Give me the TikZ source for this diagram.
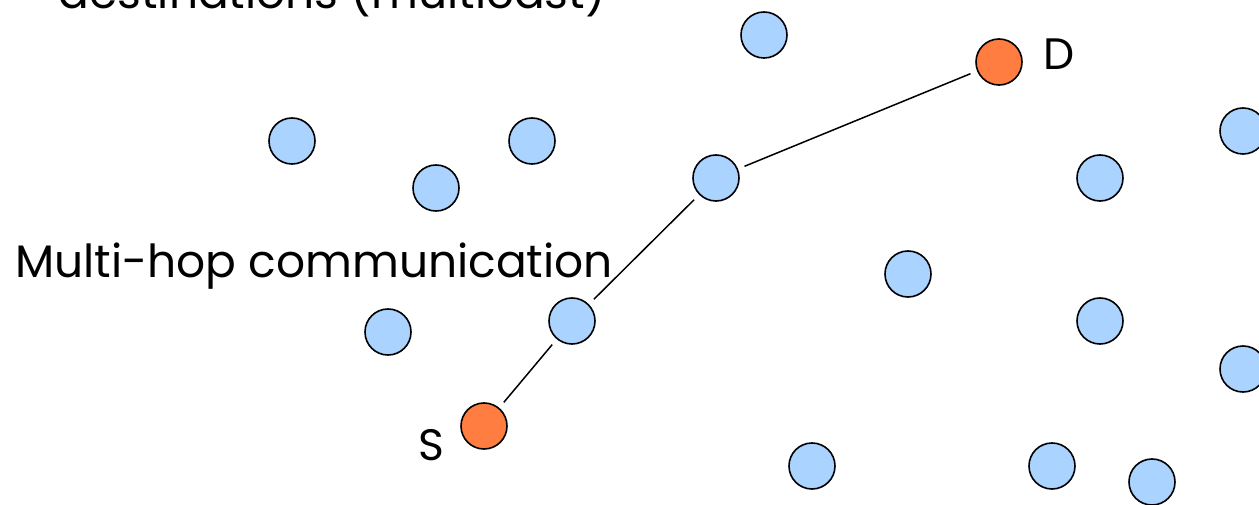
\documentclass[tikz,border=0pt]{standalone}
\usepackage{fontspec}
\setmainfont{Poppins}
\usetikzlibrary{positioning}

\definecolor{hostblue}{RGB}{170,212,255}
\definecolor{hostorange}{RGB}{255,125,64}

\tikzset{
  host/.style={circle, draw=black, line width=1.6pt, fill=hostblue, minimum size=46pt, inner sep=0pt},
  endhost/.style={host, fill=hostorange},
  hop/.style={line width=1.5pt, shorten >=7pt, shorten <=7pt},
  caption/.style={font=\fontsize{45.5}{48}\selectfont, inner sep=0pt}
}

\begin{document}
\begin{tikzpicture}[x=1pt,y=-1pt]
\clip (0,0) rectangle (1259,505);
\node[caption, anchor=base east] (title) at (606,9) {destinations (multicast)};
\node[caption, anchor=base west] (multihop) at (15,277) {Multi-hop communication};

\node[host] (n1) at (764,35) {};
\node[host] (n2) at (1243,131) {};
\node[host] (n3) at (292,141) {};
\node[host] (n4) at (532,141) {};
\node[host] (n5) at (436,188) {};
\node[host] (r2) at (716,178) {};
\node[host] (n6) at (1100,178) {};
\node[host] (n7) at (908,274) {};
\node[host] (n8) at (1100,321) {};
\node[host] (r1) at (572,321) {};
\node[host] (n9) at (388,332) {};
\node[host] (n10) at (1243,369) {};
\node[host] (n11) at (812,466) {};
\node[host] (n12) at (1052,466) {};
\node[host] (n13) at (1152,482) {};
\node[endhost] (src) at (484,426) {};
\node[endhost] (dst) at (999,62) {};

\node[caption, font=\fontsize{44}{46}\selectfont, left=16pt of src, yshift=-19pt] (srclabel) {S};
\node[caption, font=\fontsize{44}{46}\selectfont, right=20pt of dst, yshift=8pt] (dstlabel) {D};

\draw[hop] (src) -- (r1);
\draw[hop] (r1) -- (r2);
\draw[hop] (r2) -- (dst);
\end{tikzpicture}
\end{document}
